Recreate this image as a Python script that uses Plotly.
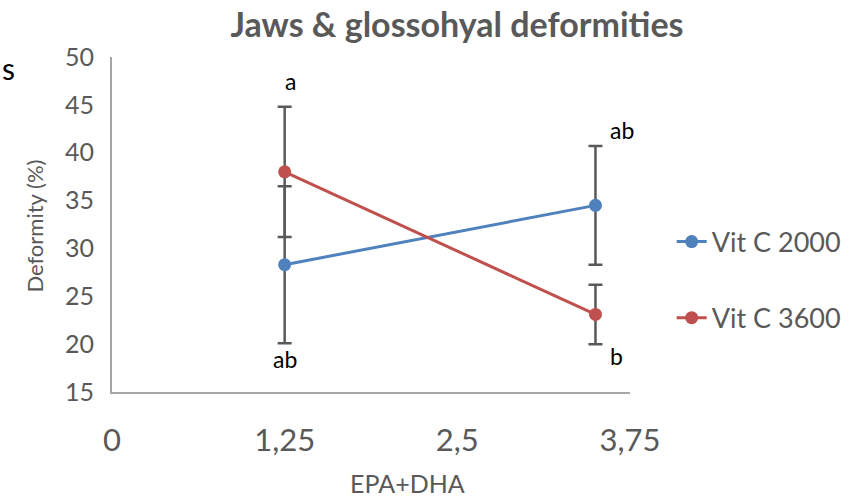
import plotly.graph_objects as go

# data
epa_dha = [1.25, 3.5]
vitc_2000 = [28.3, 34.5]
vitc_2000_err = [8.2, 6.2]
vitc_3600 = [38.0, 23.1]
vitc_3600_err = [6.8, 3.1]

letters = ["a", "ab", "ab", "b"]
letter_x = [1.29, 1.25, 3.69, 3.65]
letter_y = [47.5, 18.5, 42.4, 18.8]

x_ticks = [0, 1.25, 2.5, 3.75]
x_ticktext = ["0", "1,25", "2,5", "3,75"]

FONT = "Lato, Open Sans, sans-serif"
GREY = "#595959"

fig = go.Figure()

fig.add_trace(go.Scatter(
    x=epa_dha, y=vitc_2000, name="Vit C 2000",
    mode="lines+markers", legendgroup="a",
    line=dict(color="#4F81BD", width=3),
    marker=dict(size=13, color="#4F81BD"),
    error_y=dict(type="data", array=vitc_2000_err, color=GREY, thickness=2.5, width=7),
))
fig.add_trace(go.Scatter(
    x=epa_dha, y=vitc_3600, name="Vit C 3600",
    mode="lines+markers", legendgroup="b",
    line=dict(color="#C0504D", width=3),
    marker=dict(size=13, color="#C0504D"),
    error_y=dict(type="data", array=vitc_3600_err, color=GREY, thickness=2.5, width=7),
))

# significance letters
for t, x, y in zip(letters, letter_x, letter_y):
    fig.add_annotation(x=x, y=y, text=t, showarrow=False,
                       font=dict(family=FONT, size=23, color="black"))

# axis titles placed by hand like the original
fig.add_annotation(xref="paper", yref="paper", x=(410 - 112) / 522, y=-(483 - 392) / 335,
                   text="EPA+DHA", showarrow=False, yanchor="middle",
                   font=dict(family=FONT, size=25, color=GREY))
fig.add_annotation(xref="paper", yref="paper", x=-(112 - 33) / 522, y=(392 - 226) / 335,
                   text="Deformity (%)", showarrow=False, textangle=-90,
                   xanchor="center", yanchor="middle",
                   font=dict(family=FONT, size=22, color=GREY))
# stray cropped letter at the left edge
fig.add_annotation(xref="paper", yref="paper", x=-(112 - 8) / 522, y=(392 - 68) / 335,
                   text="s", showarrow=False, xanchor="center", yanchor="middle",
                   font=dict(family=FONT, size=30, color="black"))

fig.update_layout(
    width=858, height=503,
    margin=dict(l=112, r=224, t=57, b=111),
    paper_bgcolor="white", plot_bgcolor="white",
    title=dict(text="<b>Jaws & glossohyal deformities</b>", x=457 / 858, xanchor="center",
               y=1 - 25 / 503, yanchor="middle",
               font=dict(family=FONT, size=34, color=GREY)),
    xaxis=dict(range=[0, 3.75], tickvals=x_ticks, ticktext=x_ticktext,
               showgrid=False, zeroline=False, showline=True, linecolor="#A6A6A6", linewidth=2,
               ticks="outside", ticklen=20, tickcolor="rgba(0,0,0,0)",
               tickfont=dict(family=FONT, size=31, color=GREY)),
    yaxis=dict(range=[15, 50], dtick=5,
               showgrid=False, zeroline=False, showline=True, linecolor="#A6A6A6", linewidth=2,
               ticks="outside", ticklen=11, tickcolor="rgba(0,0,0,0)",
               tickfont=dict(family=FONT, size=25, color=GREY)),
    legend=dict(x=(676 - 112) / 522, y=(392 - 280) / 335, xanchor="left", yanchor="middle",
                tracegroupgap=38, traceorder="grouped",
                font=dict(family=FONT, size=27, color=GREY)),
)

# drop the default page margin so the chart sits at the window corner
fig.write_html("out.html", config={"displayModeBar": False},
               post_script="document.body.style.margin='0';")
